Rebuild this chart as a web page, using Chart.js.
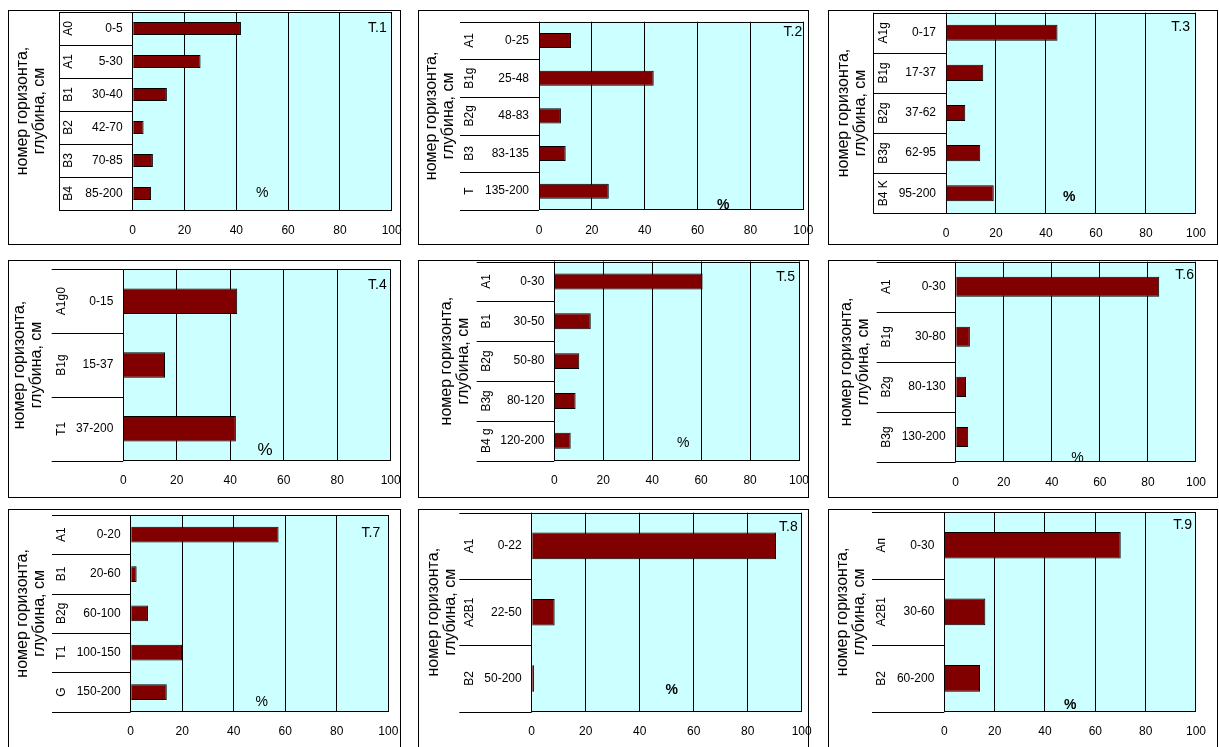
<!DOCTYPE html>
<html>
<head>
<meta charset="utf-8">
<script src="https://cdn.jsdelivr.net/npm/chart.js@4"></script>
<style>
    body { margin: 0; background: #fff; overflow: hidden; width: 1219px; height: 747px; position: relative; }
    canvas { position: absolute; left: 0; top: 0; }
</style>
</head>
<body>
<script>
// ---- data (share of horizon, %) ----
const tags = ['T.1', 'T.2', 'T.3', 'T.4', 'T.5', 'T.6', 'T.7', 'T.8', 'T.9'];
const horizons = [
    ['A0', 'A1', 'B1', 'B2', 'B3', 'B4'],
    ['A1', 'B1g', 'B2g', 'B3', 'T'],
    ['A1g', 'B1g', 'B2g', 'B3g', 'B4 K'],
    ['A1g0', 'B1g', 'T1'],
    ['A1', 'B1', 'B2g', 'B3g', 'B4 g'],
    ['A1', 'B1g', 'B2g', 'B3g'],
    ['A1', 'B1', 'B2g', 'T1', 'G'],
    ['A1', 'A2B1', 'B2'],
    ['Aп', 'A2B1', 'B2']
];
const depths = [
    ['0-5', '5-30', '30-40', '42-70', '70-85', '85-200'],
    ['0-25', '25-48', '48-83', '83-135', '135-200'],
    ['0-17', '17-37', '37-62', '62-95', '95-200'],
    ['0-15', '15-37', '37-200'],
    ['0-30', '30-50', '50-80', '80-120', '120-200'],
    ['0-30', '30-80', '80-130', '130-200'],
    ['0-20', '20-60', '60-100', '100-150', '150-200'],
    ['0-22', '22-50', '50-200'],
    ['0-30', '30-60', '60-200']
];
const shares = [
    [41.8, 26.2, 13.2, 4.2, 7.8, 7.1],
    [12.1, 43.4, 8.3, 10.1, 26.4],
    [44.6, 14.9, 7.7, 13.7, 19.1],
    [42.6, 15.6, 42.1],
    [60.6, 14.9, 10.2, 8.7, 6.7],
    [84.7, 5.9, 4.3, 5.2],
    [57.4, 2.3, 6.7, 19.9, 14.0],
    [90.5, 8.5, 0.9],
    [70.1, 16.3, 14.2]
];
const xTicks = [0, 20, 40, 60, 80, 100];
const yTitle = ['номер горизонта,', 'глубина, см'];

// ---- page layout of the nine panels (pixels) ----
const W = 1219, H = 747, AXIS_H = 34;
const NARROW = "'Liberation Sans Narrow', 'Arial Narrow', 'Liberation Sans', Arial, sans-serif";
const SANS = "'Liberation Sans', Arial, sans-serif";

// box = frame, plot = chart area, lab = left end of category lines, tx = centre of the axis title
// pct = [x value, fraction of height, bold, size], tag = [dx from right, dy from top]
const layout = [
    { box: [8, 10, 400, 244], plot: [132.7, 12, 391.7, 210], lab: 59, side: true, tx: 31.5, pct: [50, 0.914, false, 14], tag: [-5, 16] },
    { box: [418, 10, 808, 244], plot: [539, 21.7, 803.3, 210], lab: 460, tx: 440.5, pct: [69.7, 0.973, true, 14], tag: [-1, 10] },
    { box: [828, 10, 1217, 244], plot: [946, 12.7, 1214.3, 213.3], lab: 873.3, side: true, tx: 851.7, pct: [49.3, 0.917, true, 14], tag: [-6, 14] },
    { box: [8, 260, 400, 497], plot: [123.3, 269.3, 390.7, 460.7], lab: 51.7, tx: 28.5, pct: [53, 0.944, false, 17], tag: [-4, 16] },
    { box: [418, 260, 808, 497], plot: [554.3, 261.5, 799, 460.7], lab: 476.7, tx: 454.7, pct: [52.7, 0.913, false, 14], tag: [-4, 16] },
    { box: [828, 260, 1217, 497], plot: [955.7, 261.7, 1210.7, 462], lab: 876.7, tx: 855, pct: [50.7, 0.981, false, 14], tag: [-2, 13] },
    { box: [8, 509, 400, 760], plot: [130.7, 515, 388.3, 711.7], lab: 52, tx: 31, pct: [50.9, 0.949, false, 14], tag: [-8, 18] },
    { box: [418, 509, 808, 760], plot: [531.7, 512.7, 801.7, 711.7], lab: 459.3, tx: 441.7, pct: [51.9, 0.891, true, 14], tag: [-4, 14] },
    { box: [828, 509, 1217, 760], plot: [944.3, 512, 1207.7, 711.7], lab: 872, tx: 851.3, pct: [50, 0.966, true, 14], tag: [-4, 13] }
];

function makeDecor(i) {
    const L = layout[i];
    return {
        id: 'decor' + i,
        beforeDraw(chart) {
            const { ctx, chartArea: a } = chart;
            ctx.save();
            ctx.fillStyle = '#CCFFFF';
            ctx.fillRect(a.left, a.top, a.right - a.left, a.bottom - a.top);
            ctx.restore();
        },
        afterDraw(chart) {
            const { ctx, chartArea: a } = chart;
            const ys = chart.scales.y, xs = chart.scales.x;
            const n = chart.data.labels.length;
            ctx.save();
            ctx.strokeStyle = '#000';
            ctx.lineWidth = 1;

            // frame and top of plot area
            ctx.strokeRect(L.box[0] + 0.5, L.box[1] + 0.5, L.box[2] - L.box[0], L.box[3] - L.box[1]);
            ctx.beginPath();
            ctx.moveTo(a.left, Math.round(a.top) + 0.5);
            ctx.lineTo(a.right, Math.round(a.top) + 0.5);

            // category separators of the two-level axis
            const edges = [a.top];
            for (let k = 0; k < n - 1; k++) {
                edges.push((ys.getPixelForValue(k) + ys.getPixelForValue(k + 1)) / 2);
            }
            edges.push(a.bottom);
            edges.forEach(y => {
                ctx.moveTo(L.lab, Math.round(y) + 0.5);
                ctx.lineTo(a.left, Math.round(y) + 0.5);
            });
            if (L.side) {
                ctx.moveTo(Math.round(L.lab) + 0.5, a.top);
                ctx.lineTo(Math.round(L.lab) + 0.5, a.bottom);
            }
            ctx.stroke();

            ctx.fillStyle = '#000';
            ctx.textBaseline = 'middle';
            for (let k = 0; k < n; k++) {
                const yc = ys.getPixelForValue(k);
                ctx.font = '12px ' + NARROW;
                ctx.textAlign = 'right';
                ctx.fillText(chart.data.labels[k], a.left - 10, yc);

                ctx.save();
                ctx.translate(L.lab + 10, yc);
                ctx.rotate(-Math.PI / 2);
                ctx.textAlign = 'center';
                ctx.font = '12px ' + SANS;
                ctx.fillText(horizons[i][k], 0, 0);
                ctx.restore();
            }

            // axis title, two rotated lines
            const cy = (a.top + a.bottom) / 2;
            ctx.font = '16px ' + SANS;
            ctx.textAlign = 'center';
            yTitle.forEach((t, k) => {
                ctx.save();
                ctx.translate(L.tx + (k === 0 ? -8.5 : 8.5), cy);
                ctx.rotate(-Math.PI / 2);
                ctx.fillText(t, 0, 0);
                ctx.restore();
            });

            // "%" and the plot tag
            ctx.font = (L.pct[2] ? 'bold ' : '') + L.pct[3] + 'px ' + NARROW;
            ctx.textAlign = 'center';
            ctx.fillText('%', xs.getPixelForValue(L.pct[0]), a.top + L.pct[1] * (a.bottom - a.top));

            ctx.font = '14px ' + NARROW;
            ctx.textAlign = 'right';
            ctx.fillText(tags[i], a.right + L.tag[0], a.top + L.tag[1]);
            ctx.restore();
        }
    };
}

layout.forEach((L, i) => {
    const cv = document.createElement('canvas');
    cv.width = W;
    cv.height = H;
    document.body.appendChild(cv);

    new Chart(cv, {
        type: 'bar',
        data: {
            labels: depths[i],
            datasets: [{
                data: shares[i],
                backgroundColor: '#800000',
                borderColor: '#000',
                borderWidth: 1,
                barPercentage: 0.4,
                categoryPercentage: 1
            }]
        },
        options: {
            indexAxis: 'y',
            responsive: false,
            animation: false,
            events: [],
            layout: {
                padding: { left: L.plot[0], top: L.plot[1], right: W - L.plot[2], bottom: H - L.plot[3] - AXIS_H }
            },
            plugins: {
                legend: { display: false },
                tooltip: { enabled: false }
            },
            scales: {
                x: {
                    min: 0,
                    max: 100,
                    afterBuildTicks: s => { s.ticks = xTicks.map(v => ({ value: v })); },
                    afterFit: s => { s.height = AXIS_H; },
                    grid: { color: '#000', drawTicks: false },
                    border: { color: '#000' },
                    ticks: { color: '#000', padding: 13, maxRotation: 0, font: { family: NARROW, size: 12 } }
                },
                y: { display: false }
            }
        },
        plugins: [makeDecor(i)]
    });
});
</script>
</body>
</html>
